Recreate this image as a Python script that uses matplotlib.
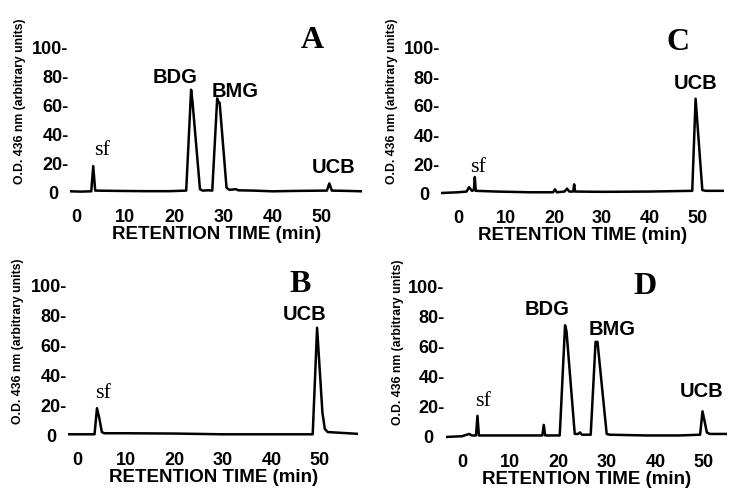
import matplotlib.pyplot as plt

# chromatogram traces: retention time (min) and O.D. 436 nm
tA = [-1.2, 1.0, 3.1, 3.5, 3.9, 8, 14, 19, 22.4, 23.4, 23.7, 25.2, 25.7,
      27.0, 27.7, 28.7, 29.0, 29.2, 30.6, 31.2, 32.5, 33, 36, 40, 45, 51.0, 51.5, 52.0, 55, 58.2]
vA = [0.5, 0.3, 0.5, 18, 1, 0.8, 0.6, 0.6, 1, 71, 62, 2, 1,
      1.2, 1, 65, 62, 62, 3, 1.5, 2, 1.2, 1, 0.5, 0.8, 1, 6, 1, 0.8, 0.5]

tB = [-1.8, 2, 3.6, 4.1, 4.6, 5.1, 5.6, 10, 20, 30, 40, 48.5, 49.4, 50.5, 51.0,
      51.6, 57.8]
vB = [0.5, 0.5, 0.5, 18, 11, 2, 1.2, 1.2, 1, 0.5, 0.5, 0.5, 72, 15, 4,
      2, 0.8]

tC = [-3.5, 0, 1.8, 2.3, 2.9, 3.3, 3.5, 3.7, 8, 15, 19.8, 20.2, 20.6, 22.2, 22.7, 23.2,
      24.0, 24.2, 24.4, 30, 40, 48.8, 49.5, 50.9, 51.6, 55.5]
vC = [0, 0.5, 1, 4, 1.5, 2, 11, 1.5, 1, 0.5, 0.5, 2.5, 0.5, 1, 3, 1,
      1, 6, 1, 0.8, 1, 1.5, 65, 2, 1.5, 1.5]

tD = [-3.3, 0, 1.5, 2.0, 2.9, 3.2, 3.5, 8, 14, 16.6, 16.9, 17.2, 20.2, 21.3, 21.6,
      23.3, 24.0, 24.4, 24.8, 26.6, 27.6, 28.0, 29.9, 30.5, 38, 45, 49.2,
      49.7, 50.6, 51.2, 54.8]
vD = [0, 0.5, 2, 1, 1, 14, 1, 1, 1, 1, 8, 1, 1, 74, 70,
      2, 2, 3, 1.5, 1.5, 63, 63, 2, 1.5, 1, 1, 1.5,
      17, 3, 2, 2]

yticks = [0, 20, 40, 60, 80, 100]
ylabels = ['0  ', '20-', '40-', '60-', '80-', '100-']
xticks = [0, 10, 20, 30, 40, 50]

W, H = 750, 494
fig = plt.figure(figsize=(7.5, 4.94), dpi=100)

def px_axes(left, right, top, bottom):
    return fig.add_axes([left / W, 1 - bottom / H, (right - left) / W, (bottom - top) / H])

sans = 'Liberation Sans'
serif = 'Liberation Serif'

def panel(ax, t, v, xlim, letter, letter_xy, peaks, sf_xy):
    ax.plot(t, v, color='black', lw=1.8)
    ax.set_xlim(*xlim)
    ax.set_ylim(-4, 104)
    for s in ax.spines.values():
        s.set_visible(False)
    ax.set_yticks(yticks)
    ax.set_yticklabels(ylabels, fontfamily=sans, fontweight='bold', fontsize=13)
    ax.set_xticks(xticks)
    ax.set_xticklabels([str(x) for x in xticks], fontfamily=sans, fontweight='bold', fontsize=13)
    ax.tick_params(length=0, pad=1)
    ax.tick_params(axis='x', pad=8)
    ax.set_xlabel('RETENTION TIME (min)', fontfamily=sans, fontweight='bold', fontsize=13.5, labelpad=0)
    ax.text(-0.172, 0.62, 'O.D. 436 nm (arbitrary units)', rotation=90, ha='center', va='center',
            transform=ax.transAxes, fontfamily=sans, fontweight='bold', fontsize=8.8)
    ax.text(letter_xy[0], letter_xy[1], letter, ha='center', va='baseline',
            fontfamily=serif, fontweight='bold', fontsize=23)
    for name, x, y in peaks:
        ax.text(x, y, name, ha='center', va='baseline', fontfamily=sans, fontweight='bold', fontsize=14.5)
    ax.text(sf_xy[0], sf_xy[1], 'sf', ha='center', va='baseline', fontfamily=serif, fontsize=16)

axA = px_axes(70.1, 362.3, 42.2, 197.8)
panel(axA, tA, vA, (-1.2, 58.2), 'A', (48, 100),
      [('BDG', 20.1, 76), ('BMG', 32.3, 66), ('UCB', 52.3, 13)], (5.3, 26))

axC = px_axes(441.2, 724.4, 42.2, 198.8)
panel(axC, tC, vC, (-3.5, 55.5), 'C', (45.8, 98.6),
      [('UCB', 49.4, 72)], (4.2, 14.5))

axB = px_axes(68.3, 357.9, 280, 441)
panel(axB, tB, vB, (-1.8, 57.8), 'B', (45.9, 96),
      [('UCB', 46.9, 77)], (5.3, 25))

axD = px_axes(446, 727.2, 280, 443)
panel(axD, tD, vD, (-3.3, 54.8), 'D', (37.8, 94.7),
      [('BDG', 17.6, 81), ('BMG', 31, 67.5), ('UCB', 49.6, 26.5)], (4.3, 20.5))

fig.savefig('out.png', dpi=100, facecolor='white')
